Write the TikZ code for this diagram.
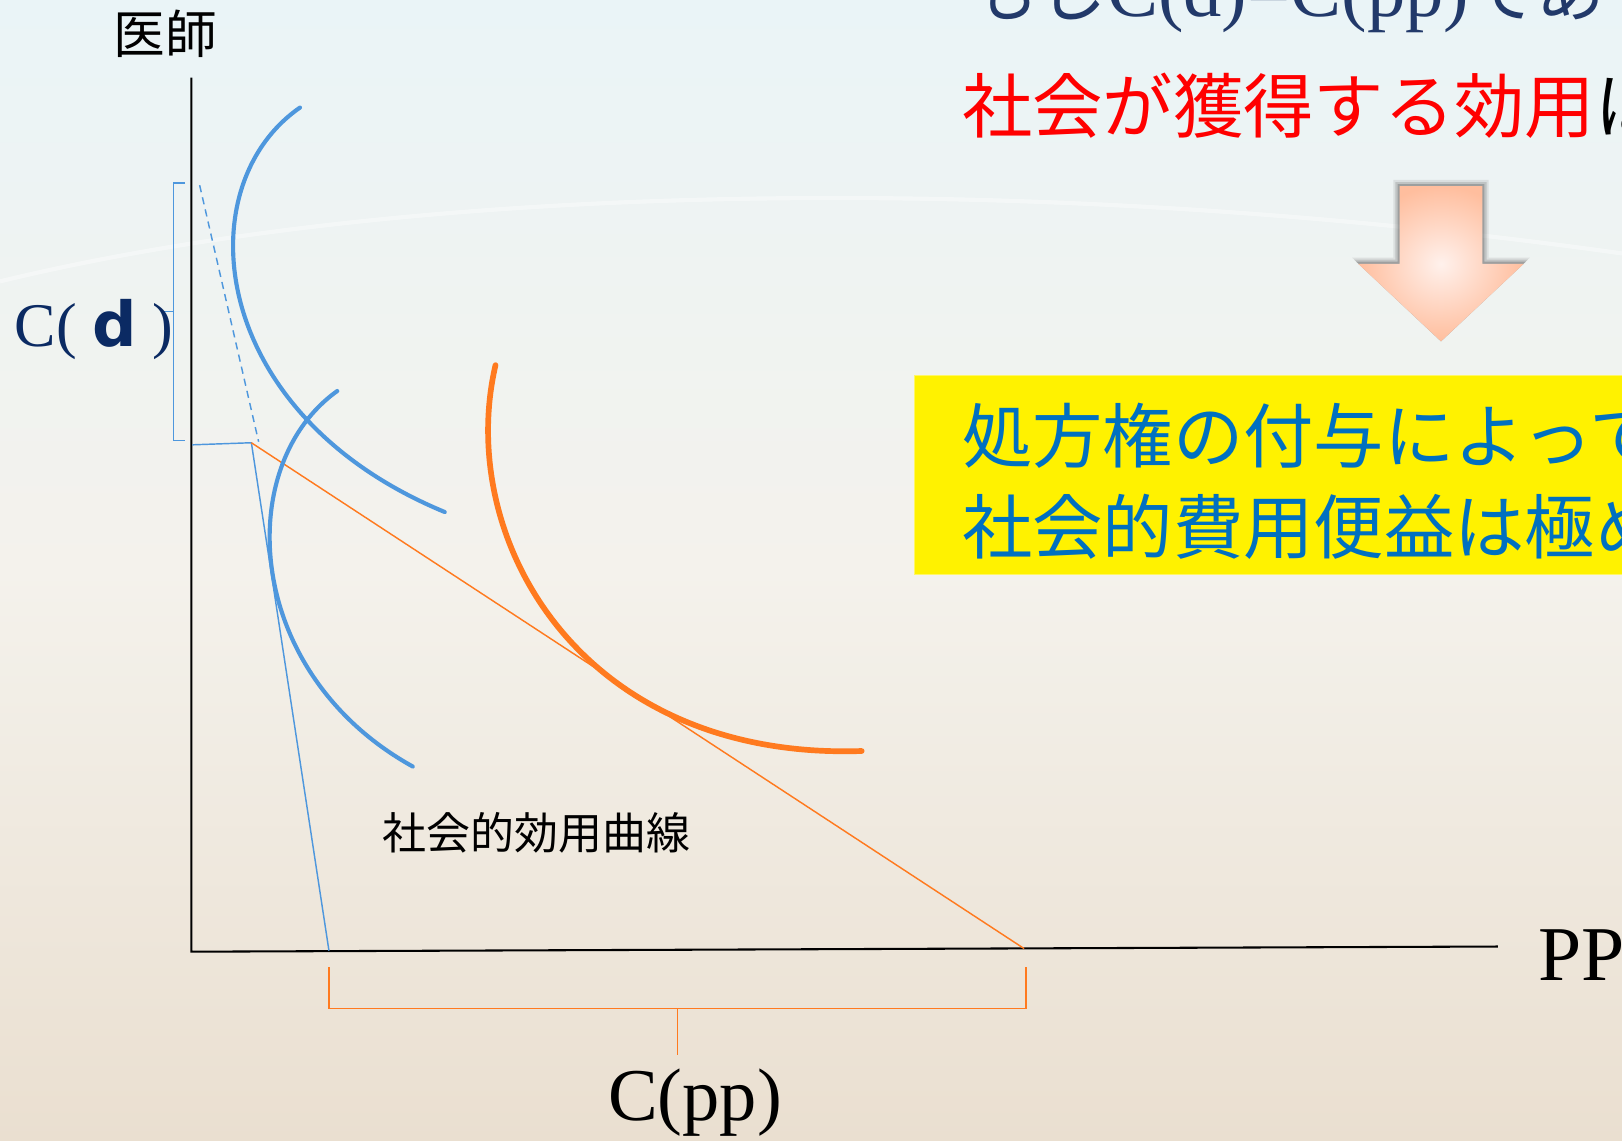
\documentclass[tikz,border=0pt]{standalone}
\usepackage{fontspec}
\setmainfont{Liberation Serif}
\newfontfamily\cjk{Noto Sans CJK JP}
\newfontfamily\dvs{DejaVu Sans}
\definecolor{cblue}{HTML}{4E97DD}
\definecolor{corange}{HTML}{FF7A1F}
\definecolor{navy}{HTML}{0B2A63}
\definecolor{tnavy}{HTML}{22396A}
\definecolor{boxblue}{HTML}{0070C0}
\definecolor{bgtop}{HTML}{EAF4F7}
\definecolor{bgmid}{HTML}{F4F2EC}
\definecolor{bgbot}{HTML}{EADFD0}
\definecolor{arrin}{HTML}{FFF1EC}
\definecolor{arrout}{HTML}{FFBE9E}
\begin{document}
\begin{tikzpicture}[x=1pt,y=-1pt,
  lbl/.style={inner sep=0pt, anchor=base west},
  bcurve/.style={cblue, line width=4pt, line cap=round},
  ocurve/.style={corange, line width=5.5pt, line cap=round},
  thinb/.style={cblue, line width=1.4pt},
  thino/.style={corange, line width=1.4pt},
  axisline/.style={black, line width=2pt},
  bigcjk/.style={font=\cjk\fontsize{68}{76}\selectfont}]
\useasboundingbox (0,0) rectangle (1568,1103);
\clip (0,0) rectangle (1568,1103);
% background
\shade[top color=bgtop, bottom color=bgbot, middle color=bgmid] (0,0) rectangle (1568,1103);
\draw[white, line width=4pt, opacity=0.4] (0,272) .. controls (400,175) and (1000,165) .. (1568,245);

% coordinates
\coordinate (O) at (185,920);
\coordinate (Ytop) at (185,75);
\coordinate (Xend) at (1448,915);
\coordinate (K) at (243,428);
\coordinate (Y0) at (186,430);
\coordinate (Bx) at (318,919);
\coordinate (Ox) at (990,917);
\coordinate (D1) at (193,179);
\coordinate (D2) at (250,427);

% axes
\draw[axisline] (Ytop) -- (O) -- (Xend);
\node[lbl, font=\cjk\fontsize{50}{56}\selectfont] (doc) at (110,52) {医師};
\node[lbl, font=\fontsize{75}{80}\selectfont] (pp) at (1487,948) {PP};

% budget lines
\draw[cblue, line width=1.4pt, dash pattern=on 7pt off 5pt] (D1) -- (D2);
\draw[thinb] (Y0) -- (K) -- (Bx);
\draw[thino] (K) -- (Ox);

% utility curves
\draw[bcurve] (290,104) .. controls (180,180) and (200,400) .. (430,495);
\draw[bcurve] (326,378) .. controls (225,450) and (235,650) .. (399,741);
\draw[ocurve] (479,353) .. controls (440,520) and (560,735) .. (833,726);

% C(d) bracket
\draw[thinb, line width=1.2pt] (179,177) -- (168,177) -- (168,426) -- (179,426);
\draw[thinb, line width=1.2pt] (168,301) -- (159,301);
\node[lbl, text=navy, font=\fontsize{60}{66}\selectfont] (cd) at (14,335) {C( {\dvs\bfseries d} )};

% C(pp) bracket
\draw[thino] (318,935) -- (318,975) -- (992,975) -- (992,935);
\draw[thino] (655,975) -- (655,1020);
\node[inner sep=0pt, anchor=base, font=\fontsize{72}{80}\selectfont] (cpp) at (672,1083) {C(pp)};

% curve label
\node[lbl, font=\cjk\fontsize{42.5}{48}\selectfont] (suc) at (370,821) {社会的効用曲線};

% top texts
\node[lbl, text=tnavy, font=\fontsize{74}{80}\selectfont] (top) at (938,16) {{\cjk\fontsize{66}{70}\selectfont もし}C(d)=C(pp){\cjk\fontsize{66}{70}\selectfont であ}};
\node[lbl, bigcjk] (red) at (930,128) {\textcolor{red}{社会が獲得する効用}は};

% arrow
\foreach \d/\o in {6/0.08,4/0.12,2/0.18}{
  \fill[black, opacity=\o] (1353-\d,180-\d) -- (1433+\d,180-\d) -- (1433+\d,255-\d) -- (1473+\d,255-\d) -- (1393,330) -- (1313-\d,255-\d) -- (1353-\d,255-\d) -- cycle;
}
\shade[inner color=arrin, outer color=arrout] (1353,180) -- (1433,180) -- (1433,255) -- (1473,255) -- (1393,330) -- (1313,255) -- (1353,255) -- cycle;

% yellow box
\fill[yellow, draw=yellow!60!white, line width=1pt] (884,363) rectangle (1600,555);
\node[lbl, bigcjk, text=boxblue] (l1) at (930,447) {処方権の付与によって};
\node[lbl, bigcjk, text=boxblue] (l2) at (930,535) {社会的費用便益は極めて};
\end{tikzpicture}
\end{document}
